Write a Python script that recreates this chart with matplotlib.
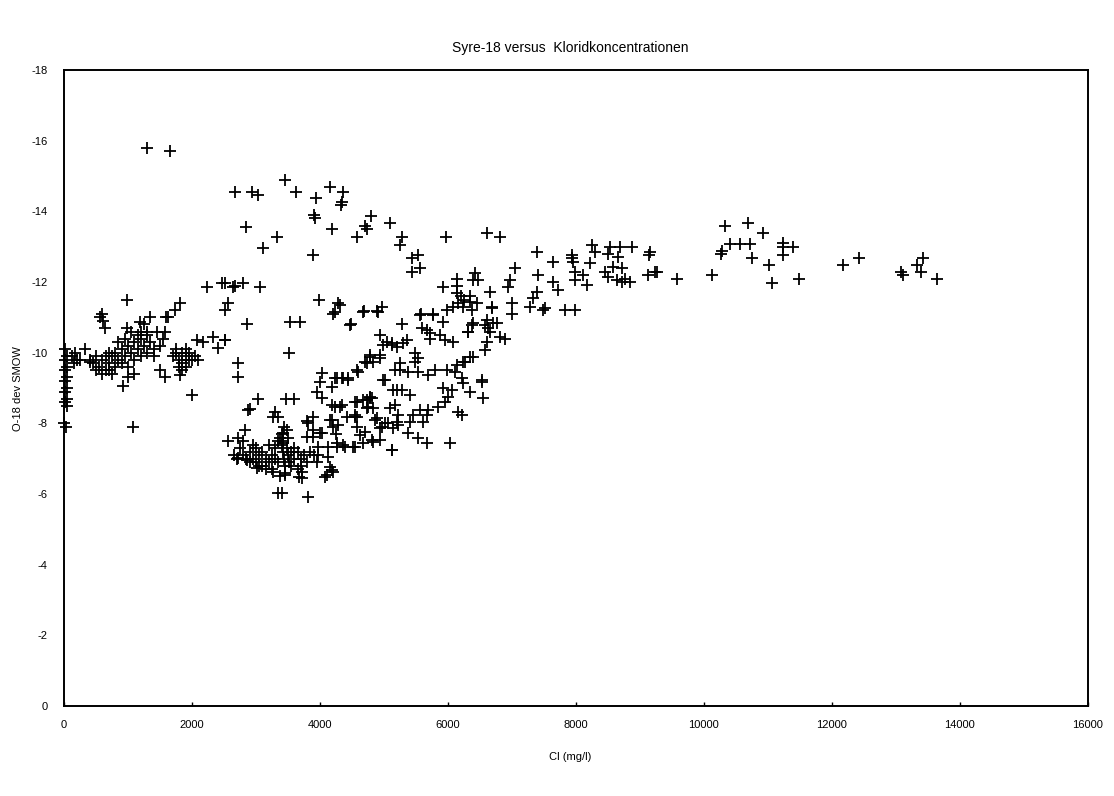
"""Syre-18 versus kloridkoncentration scatter."""

import matplotlib
matplotlib.use("Agg")
import matplotlib.pyplot as plt
import numpy as np

plt.rcParams["font.family"] = ["Liberation Sans", "DejaVu Sans"]
plt.rcParams["axes.unicode_minus"] = False

# (Cl mg/l, O-18 dev SMOW), grouped by region
edge = [
    (20, -10.1), (40, -9.9), (20, -9.8), (40, -9.6), (20, -9.5), (40, -9.3),
    (20, -9.2), (40, -9.0), (20, -8.9), (40, -8.7), (20, -8.6), (40, -8.5),
    (0, -8.0), (30, -7.9), (120, -9.9), (150, -9.7), (200, -9.8), (170, -10.0),
    (250, -9.8), (330, -10.1), (400, -9.75),
]

low_cl = [
    (560, -11.0), (610, -10.9), (640, -10.7), (600, -11.1), (980, -11.5),
    (980, -10.7), (1190, -10.87), (1340, -11.0), (1600, -11.0), (1080, -7.9),
    (920, -9.06), (400, -9.8), (450, -9.7), (500, -9.9), (550, -9.6),
    (600, -9.8), (650, -9.5), (700, -9.7), (750, -9.9), (800, -10.0),
    (850, -9.8), (900, -10.1), (950, -9.9), (1000, -10.2), (1050, -10.0),
    (1100, -10.3), (1150, -10.1), (1200, -10.4), (1250, -10.2), (1300, -10.5),
    (1350, -10.3), (1400, -10.1), (1450, -10.6), (1250, -10.8), (1300, -10.6),
    (1200, -10.6), (500, -9.5), (600, -9.4), (700, -9.5), (800, -9.6),
    (900, -9.7), (1000, -9.6), (1100, -9.8), (1200, -9.9), (1300, -10.0),
    (1400, -9.9), (850, -10.3), (950, -10.4), (1050, -10.6), (1150, -10.5),
    (700, -10.0), (750, -9.4), (650, -9.9), (1000, -9.3), (1100, -9.4),
    (1500, -10.2), (1550, -10.4), (1580, -10.6), (1625, -11.0), (1730, -11.2),
    (1810, -11.4), (1500, -9.5), (1580, -9.3), (1810, -9.37), (2000, -8.8),
    (1700, -9.9), (1750, -10.0), (1800, -9.8), (1850, -10.0), (1900, -9.9),
    (1950, -9.8), (1800, -9.6), (1850, -9.7), (1900, -9.6), (1950, -10.0),
    (2000, -9.8), (2050, -9.9), (1750, -10.1), (1900, -10.1), (1850, -9.5),
    (2100, -9.8), (2080, -10.36), (2170, -10.3), (2330, -10.45), (2520, -10.36),
    (2410, -10.13),
]

upper = [
    (1300, -15.8), (1650, -15.7), (3450, -14.9), (2670, -14.55), (2940, -14.55),
    (3030, -14.46), (3625, -14.55), (4160, -14.7), (4360, -14.55), (4340, -14.26),
    (4330, -14.18), (3940, -14.38), (3910, -13.9), (3920, -13.82), (4800, -13.87),
    (4700, -13.58), (4730, -13.5), (5090, -13.67), (2840, -13.56), (3330, -13.27),
    (4190, -13.5), (4580, -13.27), (5280, -13.27), (5250, -13.05), (3110, -12.96),
    (3890, -12.76), (5970, -13.27), (5440, -12.68), (5530, -12.76), (5440, -12.28),
    (5560, -12.4), (6610, -13.39), (6810, -13.27),
]

middle_band = [
    (2230, -11.85), (2470, -11.97), (2640, -11.85), (2800, -11.97), (3060, -11.85),
    (2520, -11.97), (2670, -11.89), (2560, -11.4), (2520, -11.2), (2860, -10.8),
    (2520, -10.36), (3980, -11.5), (4280, -11.4), (4200, -11.1), (4230, -11.15),
    (4690, -11.17), (4890, -11.17), (4970, -11.3), (4480, -10.8), (3530, -10.87),
    (3690, -10.87), (5280, -10.8), (5580, -11.1), (5760, -11.1), (5920, -11.86),
    (6140, -12.1), (6140, -11.9), (6140, -11.7), (5590, -10.7), (5670, -10.65),
    (5720, -10.55), (4940, -10.5), (5050, -10.3), (4310, -11.35), (4670, -11.15),
    (4910, -11.15), (4470, -10.78), (5560, -11.07), (5770, -11.07), (5980, -11.2),
    (6080, -11.3), (6160, -11.4), (6240, -11.3), (6340, -11.44), (6370, -11.2),
    (6690, -11.3), (5920, -10.87), (5720, -10.4), (5870, -10.5), (5950, -10.36),
    (6080, -10.3), (6310, -10.6), (6390, -10.83), (6580, -10.78), (6660, -10.6),
    (6770, -10.83), (6810, -10.45), (6890, -10.4), (6610, -10.3), (6580, -10.08),
    (5130, -10.22), (5200, -10.16), (5300, -10.27), (5360, -10.36),
    (4780, -9.93), (4830, -9.73), (4730, -9.7), (4940, -9.85), (4590, -9.45),
    (4270, -9.28), (4360, -9.28), (4440, -9.22), (5020, -9.22), (5250, -9.7),
    (5250, -9.51), (5370, -9.45), (5530, -9.45), (5690, -9.37), (5800, -9.51),
    (5490, -9.99), (5530, -9.85), (5490, -9.73), (5980, -9.51), (6110, -9.45),
    (6140, -9.65), (6220, -9.28), (6270, -9.73), (6390, -9.88), (6530, -9.22),
    (6550, -8.72), (6340, -8.89), (5920, -9.0), (6060, -8.94), (6000, -8.75),
    (5950, -8.6), (5840, -8.46), (6160, -8.32), (6220, -8.24), (6030, -7.44),
    (5200, -8.94), (5280, -8.94), (5410, -8.8), (5560, -8.38), (5690, -8.38),
    (5670, -8.24), (5450, -8.24), (5610, -8.04), (5410, -8.04), (5220, -7.95),
    (5220, -8.24), (5090, -8.43), (5370, -7.72), (5530, -7.58), (5670, -7.44),
    (5130, -7.24),
]

rising = [
    (6420, -12.25), (6390, -12.06), (6470, -12.06), (6660, -11.72), (6690, -11.26),
    (7000, -11.4), (7000, -11.1), (7050, -12.4), (6970, -12.06), (6940, -11.86),
    (6610, -10.92), (6700, -10.83), (6630, -10.7), (6380, -10.78), (6310, -10.6),
    (6340, -9.88), (6240, -9.73), (6530, -9.17), (6240, -9.14), (6250, -11.5),
    (6350, -11.6), (6450, -11.4), (6200, -11.6),
]

high_cl = [
    (7390, -12.85), (7640, -12.56), (7940, -12.76), (7940, -12.68), (7950, -12.56),
    (8220, -12.53), (8250, -13.05), (8300, -12.85), (8530, -13.0), (8690, -13.0),
    (8880, -13.0), (8500, -12.8), (8660, -12.7), (8580, -12.42), (8720, -12.4),
    (8450, -12.28), (8500, -12.14), (8640, -12.06), (8770, -12.1), (8840, -12.0),
    (8720, -12.0), (7980, -12.28), (8110, -12.2), (7980, -12.06), (8170, -11.91),
    (7410, -12.2), (7640, -12.0), (7720, -11.77), (7390, -11.72), (7330, -11.54),
    (7280, -11.3), (7520, -11.26), (7480, -11.2), (7830, -11.2), (7980, -11.2),
    (9160, -12.85), (9140, -12.76), (9130, -12.2), (9230, -12.28), (9260, -12.28),
    (9580, -12.08), (10120, -12.2), (10330, -13.58), (10690, -13.67), (10920, -13.39),
    (10280, -12.88), (10270, -12.79), (10400, -13.07), (10560, -13.07),
    (10720, -13.07), (10750, -12.68), (11020, -12.48), (11060, -11.97),
    (11230, -13.1), (11230, -13.0), (11230, -12.76), (11400, -13.0), (11480, -12.08),
    (12170, -12.48), (12420, -12.68), (13080, -12.28), (13110, -12.2),
    (13330, -12.48), (13420, -12.68), (13390, -12.28), (13640, -12.08),
]

low_band = [
    (2720, -9.7), (2720, -9.3), (3030, -8.7), (2900, -8.4), (2830, -7.8),
    (2560, -7.5), (2720, -7.6), (3520, -9.99), (3470, -8.69), (3590, -8.69),
    (3300, -8.32), (3270, -8.18), (3340, -8.18), (2880, -8.38), (2720, -7.02),
    (2860, -6.96), (3410, -6.03), (3340, -6.03), (3810, -5.92), (4160, -6.77),
    (4080, -6.49), (4190, -6.68), (3720, -6.63), (3720, -6.45), (3670, -6.49),
    (3270, -6.63), (3450, -6.54), (3010, -6.73), (3420, -7.72), (3420, -7.44),
    (3810, -8.0), (3890, -7.61), (4000, -7.72), (4160, -8.09), (4230, -8.46),
    (4310, -8.46), (4550, -8.18), (4730, -8.43), (4030, -9.42), (4000, -9.17),
    (3950, -8.89), (4030, -8.72), (4190, -9.03), (4230, -9.28), (4340, -9.28),
    (4440, -9.28), (4580, -9.51), (4700, -9.73), (4780, -9.88), (4940, -9.93),
    (4980, -10.22), (5130, -10.27), (5170, -9.51), (4190, -8.52), (4340, -8.52),
    (4550, -8.6), (4730, -8.66), (4780, -8.72), (4980, -9.22), (4190, -8.09),
    (4280, -7.95), (4420, -8.18), (4580, -8.18), (4580, -7.9), (4700, -7.75),
    (4860, -8.09), (4970, -7.9), (5060, -8.0), (3800, -7.61), (3890, -7.81),
    (4030, -7.72), (3970, -7.33), (4130, -7.33), (4270, -7.33), (4390, -7.33),
    (4520, -7.33), (4670, -7.44), (4810, -7.53), (4940, -7.53), (3970, -7.1),
    (4130, -7.05), (4110, -6.54), (4200, -6.63), (5130, -7.24), (5140, -7.86),
    (5200, -8.03), (5140, -8.94), (5170, -8.52), (3800, -8.07), (3890, -8.18),
    (4780, -8.75), (4830, -8.43), (4670, -8.66), (4810, -8.72), (4750, -8.46),
    (4580, -8.6), (4550, -8.24), (4890, -8.15), (5020, -8.01), (4940, -7.87),
    (4630, -7.67), (4830, -7.47), (4360, -7.39), (4550, -7.33), (4270, -7.44),
    (4200, -7.9), (4250, -7.7),
]

# dense block of samples around 2700-4000 mg/l
dense_block = [
    (2750, -7.3), (2800, -7.1), (2850, -7.0), (2900, -7.2), (2950, -7.0),
    (3000, -6.9), (3050, -7.1), (3100, -7.2), (3150, -7.0), (3200, -6.9),
    (3250, -7.1), (3300, -7.3), (3350, -7.5), (3380, -7.6), (3400, -7.4),
    (3420, -7.2), (3440, -7.0), (3460, -6.8), (3480, -7.3), (3500, -7.1),
    (3520, -6.9), (3550, -7.2), (3600, -7.0), (3650, -7.2), (3700, -7.0),
    (3750, -7.1), (3800, -6.9), (3850, -7.2), (2950, -7.4), (3050, -6.8),
    (3150, -6.7), (3250, -6.7), (3350, -6.9), (3450, -6.6), (3550, -6.8),
    (3650, -6.7), (3200, -7.4), (3300, -7.0), (2900, -6.9), (3100, -6.8),
    (3400, -7.7), (3420, -7.5), (3380, -6.5), (3600, -7.3), (3700, -6.8),
    (3900, -7.1), (3950, -6.9), (3000, -7.3), (2800, -7.5), (2700, -7.0),
    (2650, -7.1), (3500, -7.6), (3480, -7.8), (3440, -7.9),
]

x_ticks = list(range(0, 16001, 2000))
y_ticks = list(range(0, -19, -2))

groups = [edge, low_cl, upper, middle_band, rising, high_cl, low_band, dense_block]
pts = np.array([p for g in groups for p in g], dtype=float)

fig = plt.figure(figsize=(11.14, 7.96), dpi=100)
ax = fig.add_axes([0.0575, 0.113, 0.919, 0.799])

ax.plot(pts[:, 0], pts[:, 1], linestyle="none", marker="+",
        markersize=8, markeredgewidth=1.3, color="black", clip_on=False)

ax.set_xlim(0, 16000)
ax.set_ylim(0, -18)  # 0 at the bottom, -18 at the top
ax.set_xticks(x_ticks)
ax.set_xticklabels([str(t) for t in x_ticks])
ax.set_yticks(y_ticks)
ax.set_yticklabels([str(t) for t in y_ticks])
ax.tick_params(axis="both", labelsize=8, length=3, width=1, direction="in")
ax.tick_params(axis="x", pad=10)
ax.tick_params(axis="y", pad=12, length=0)
for s in ax.spines.values():
    s.set_linewidth(1.4)

fig.text(0.512, 0.94, "Syre-18 versus  Kloridkoncentrationen", ha="center",
         va="center", fontsize=10)
fig.text(0.512, 0.049, "Cl (mg/l)", ha="center", va="center", fontsize=8)
fig.text(0.016, 0.512, "O-18 dev SMOW", ha="center", va="center",
         rotation=90, fontsize=8)

fig.savefig("out.png", dpi=100)
